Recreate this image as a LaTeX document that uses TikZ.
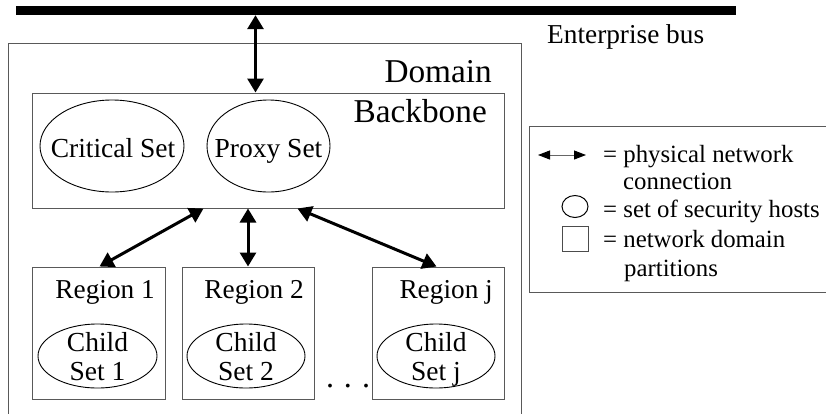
\documentclass[tikz,border=0pt]{standalone}
\usepackage{fontspec}
\setmainfont{Liberation Serif}
\usetikzlibrary{arrows.meta,shapes.geometric}
\tikzset{
  box/.style={draw=black!65,line width=1pt,rectangle,inner sep=0pt},
  setell/.style={draw=black,line width=0.9pt,ellipse,inner sep=0pt},
  settxt/.style={inner sep=0pt,align=center,font=\fontsize{27.5}{29}\selectfont},
  lbl/.style={inner sep=0pt,font=\fontsize{27.3}{29}\selectfont},
  leglbl/.style={inner sep=0pt,font=\fontsize{24.8}{29}\selectfont},
  biglbl/.style={inner sep=0pt,font=\fontsize{33.3}{36}\selectfont},
  bigarr/.style={line width=3pt,{Triangle[width=16pt,length=14pt]}-{Triangle[width=16pt,length=14pt]}},
  smallarr/.style={line width=1pt,draw=black!60,{Triangle[width=9pt,length=12pt,black]}-{Triangle[width=9pt,length=12pt,black]}},
}
\begin{document}
\begin{tikzpicture}[x=1pt,y=-1pt]
\useasboundingbox (0,0) rectangle (826,413);
\clip (0,0) rectangle (826,413);
% enterprise bus
\node[fill=black,inner sep=0pt,minimum width=720pt,minimum height=9pt] (bus) at (376,10.5) {};
\node[lbl,anchor=base west] (buslbl) at (547,43) {Enterprise bus};
% domain
\node[box,minimum width=513pt,minimum height=400pt] (dom) at (264.5,243) {};
\node[biglbl,anchor=base east] (domlbl) at (492,82) {Domain};
% backbone
\node[box,minimum width=472pt,minimum height=115pt] (bb) at (268,150.5) {};
\node[biglbl,anchor=base east] (bblbl) at (487,122) {Backbone};
\node[setell,minimum width=144pt,minimum height=92pt] (crit) at (112,146) {};
\node[settxt,text depth=0pt] (crittxt) at (113,148) {Critical Set};
\node[setell,minimum width=123pt,minimum height=92pt] (proxy) at (268.5,146) {};
\node[settxt,text depth=0pt] (proxytxt) at (268.5,148) {Proxy Set};
% regions
\node[box,minimum width=133pt,minimum height=132pt] (r1) at (98.5,333) {};
\node[box,minimum width=132pt,minimum height=132pt] (r2) at (248,333) {};
\node[box,minimum width=132pt,minimum height=132pt] (rj) at (438,333) {};
\node[lbl,anchor=base east] (r1lbl) at (155,298) {Region 1};
\node[lbl,anchor=base east] (r2lbl) at (304,298) {Region 2};
\node[lbl,anchor=base east] (rjlbl) at (493,298) {Region j};
\node[setell,minimum width=119pt,minimum height=64pt] (c1) at (97.5,356) {};
\node[setell,minimum width=118pt,minimum height=64pt] (c2) at (246,356) {};
\node[setell,minimum width=118pt,minimum height=64pt] (cj) at (436,356) {};
\node[settxt,text depth=0pt] (c1txt) at (97.5,356) {Child\\Set 1};
\node[settxt,text depth=0pt] (c2txt) at (246,356) {Child\\Set 2};
\node[settxt,text depth=0pt] (cjtxt) at (436,356) {Child\\Set j};
\node[inner sep=0pt,font=\fontsize{32}{36}\selectfont,anchor=base] (dots) at (348,387) {.\hspace{10pt}.\hspace{10pt}.};
% connectors
\coordinate (bbtop) at ([xshift=224pt]bb.north west);
\draw[bigarr] (bus.south -| bbtop) -- (bbtop);
\draw[bigarr] ([xshift=172pt]bb.south west) -- ([xshift=68pt]r1.north west);
\draw[bigarr] (bb.south -| r2.north) -- (r2.north);
\draw[bigarr] ([xshift=266pt]bb.south west) -- ([xshift=65pt]rj.north west);
% legend
\node[box,minimum width=311pt,minimum height=166pt] (leg) at (684.5,209) {};
\coordinate (la) at (538,155);
\coordinate (lb) at (586,155);
\draw[smallarr] (la) -- (lb);
\node[draw=black,line width=1pt,ellipse,inner sep=0pt,minimum width=26pt,minimum height=22pt] (lcirc) at (575,206.5) {};
\node[draw=black!70,line width=1pt,rectangle,inner sep=0pt,minimum width=26pt,minimum height=25pt] (lsq) at (575,238.5) {};
\node[leglbl,anchor=base west] (l1) at (603,162) {= physical network};
\node[leglbl,anchor=base west] (l2) at (623,189) {connection};
\node[leglbl,anchor=base west] (l3) at (603,217) {= set of security hosts};
\node[leglbl,anchor=base west] (l4) at (603,247) {= network domain};
\node[leglbl,anchor=base west] (l5) at (624,276) {partitions};
\end{tikzpicture}
\end{document}
